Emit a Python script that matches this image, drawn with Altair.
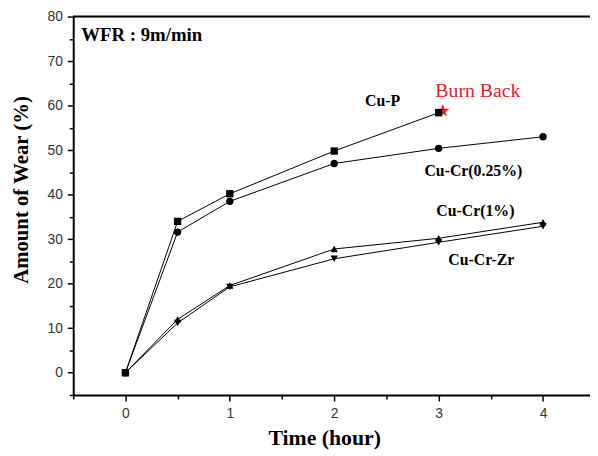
import altair as alt
import pandas as pd

# ---- data ----
hours = [0, 0.5, 1, 2, 3, 4]
cu_p = [0, 34.0, 40.2, 49.8, 58.4]            # stops at 3 h (burn back)
cu_cr_025 = [0, 31.6, 38.5, 47.0, 50.4, 53.0]
cu_cr_1 = [0, 12.0, 19.6, 27.8, 30.2, 33.8]
cu_cr_zr = [0, 11.2, 19.3, 25.6, 29.3, 32.9]

series_names = ["Cu-P", "Cu-Cr(0.25%)", "Cu-Cr(1%)", "Cu-Cr-Zr"]
series_values = [cu_p, cu_cr_025, cu_cr_1, cu_cr_zr]
series_shapes = ["square", "circle", "triangle-up", "triangle-down"]

burn_x = [3.04]
burn_y = [58.8]

label_text = ["Cu-P", "Burn Back", "Cu-Cr(0.25%)", "Cu-Cr(1%)", "Cu-Cr-Zr"]
label_x = [2.463, 3.376, 3.333, 3.352, 3.409]
label_y = [60.0, 61.9, 44.3, 35.1, 24.1]

x_tick_values = [-0.5, 0, 0.5, 1, 1.5, 2, 2.5, 3, 3.5, 4]
y_tick_values = list(range(-5, 81, 5))

rows = []
for name, vals in zip(series_names, series_values):
    for h, v in zip(hours, vals):
        rows.append({"series": name, "time": h, "wear": v})
df = pd.DataFrame(rows)

W, H = 523, 383
XDOM = [-0.5, 4.45]
YDOM = [-5, 80]

serif = "Liberation Serif"
sans = "Liberation Sans"

x_axis = alt.Axis(
    values=x_tick_values,
    labelExpr="datum.value % 1 == 0 ? format(datum.value, 'd') : ''",
    tickSize={"condition": {"test": "datum.value % 1 == 0", "value": 6}, "value": 4},
    tickColor="black", tickWidth=1.5,
    domainColor="black", domainWidth=2,
    labelFont=sans, labelFontSize=14, labelColor="#333", labelPadding=6,
    grid=False,
    title="Time (hour)", titleFont=serif, titleFontSize=22, titleFontWeight="bold",
    titleColor="black", titleX=254, titleY=50, titleBaseline="alphabetic", titleAlign="center",
)
y_axis = alt.Axis(
    values=y_tick_values,
    labelExpr="datum.value % 10 == 0 ? format(datum.value, 'd') : ''",
    tickSize={"condition": {"test": "datum.value % 10 == 0", "value": 6}, "value": 4},
    tickColor="black", tickWidth=1.5,
    domainColor="black", domainWidth=2,
    labelFont=sans, labelFontSize=14, labelColor="#333", labelPadding=5,
    grid=False,
    title="Amount of Wear (%)", titleFont=serif, titleFontSize=21, titleFontWeight="bold",
    titleColor="black", titleAngle=-90, titleX=-46, titleY=175,
    titleBaseline="alphabetic", titleAlign="center",
)

xs = alt.Scale(domain=XDOM, nice=False, zero=False)
ys = alt.Scale(domain=YDOM, nice=False, zero=False)
XE = alt.X("time:Q", scale=xs, axis=x_axis)
YE = alt.Y("wear:Q", scale=ys, axis=y_axis)

base = alt.Chart(df)

lines = base.mark_line(color="black", strokeWidth=1).encode(x=XE, y=YE, detail="series:N")

star_path = ("M0,-1L0.24,-0.33L0.95,-0.31L0.38,0.12L0.59,0.81L0,0.4"
             "L-0.59,0.81L-0.38,0.12L-0.95,-0.31L-0.24,-0.33Z")
star_df = pd.DataFrame({"time": burn_x, "wear": burn_y})
star = alt.Chart(star_df).mark_point(
    shape=star_path, filled=True, color="#e3202b", size=200, opacity=1
).encode(x=XE, y=YE)

points = base.mark_point(filled=True, color="black", opacity=1).encode(
    x=XE, y=YE,
    shape=alt.Shape("series:N", scale=alt.Scale(domain=series_names, range=series_shapes), legend=None),
    size=alt.Size("series:N", scale=alt.Scale(domain=series_names, range=[55, 55, 85, 85]), legend=None),
)

lab_df = pd.DataFrame({"text": label_text, "time": label_x, "wear": label_y})
labels_bold = alt.Chart(lab_df[lab_df["text"] != "Burn Back"]).mark_text(
    font=serif, fontSize=16, fontWeight="bold", align="center", baseline="alphabetic", color="black"
).encode(x=XE, y=YE, text="text:N")
labels_red = alt.Chart(lab_df[lab_df["text"] == "Burn Back"]).mark_text(
    font=serif, fontSize=20, align="center", baseline="alphabetic", color="#e3202b"
).encode(x=XE, y=YE, text="text:N")

wfr = alt.Chart(pd.DataFrame({"t": ["WFR : 9m/min"], "time": [-0.423], "wear": [74.6]})).mark_text(
    font=serif, fontSize=19, fontWeight="bold", align="left", baseline="alphabetic", color="black"
).encode(x=XE, y=YE, text="t:N")

top_line = alt.Chart(pd.DataFrame({"wear": [80]})).mark_rule(color="black", strokeWidth=2).encode(
    y=YE, x=alt.value(0), x2=alt.value(W)
)

chart = alt.layer(lines, star, points, labels_bold, labels_red, wfr, top_line).properties(
    width=W, height=H,
    autosize=alt.AutoSizeParams(type="none"),
    padding={"left": 66, "top": 6, "right": 0, "bottom": 55},
).configure_view(stroke=None).configure(background="white")

chart.save("out.html", embed_options={"renderer": "svg", "actions": False})
